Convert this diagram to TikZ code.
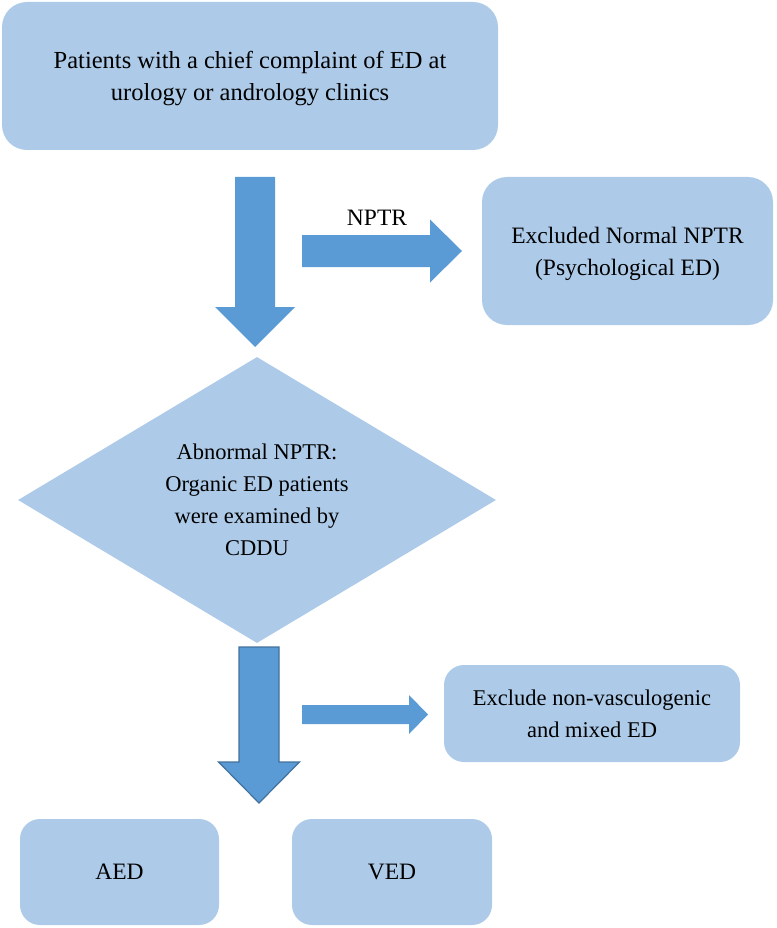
\documentclass[tikz,border=0pt]{standalone}
\usepackage{fontspec}
\setmainfont{Liberation Serif}
\usetikzlibrary{calc}
\usetikzlibrary{shapes.geometric}
\definecolor{boxblue}{RGB}{173,203,233}
\definecolor{arrowblue}{RGB}{91,155,213}
\definecolor{edgeblue}{RGB}{65,113,156}
\tikzset{stage/.style={fill=boxblue, rounded corners=25pt, inner sep=0, text depth=0pt, align=center, font=\fontsize{23.5}{32}\selectfont}}
\tikzset{check/.style={diamond, fill=boxblue, inner sep=0, aspect=1.67, text depth=0pt, align=center, font=\fontsize{22.5}{32}\selectfont}}
% block arrows: {half shaft}{half head}{head length}
\tikzset{fat down/.style n args={3}{fill=arrowblue, to path={($(\tikztostart)+(-#1,0)$) -- ($(\tikztotarget)+(-#1,-#3)$) -- ($(\tikztotarget)+(-#2,-#3)$) -- (\tikztotarget) -- ($(\tikztotarget)+(#2,-#3)$) -- ($(\tikztotarget)+(#1,-#3)$) -- ($(\tikztostart)+(#1,0)$) -- cycle}}}
\tikzset{fat right/.style n args={3}{fill=arrowblue, to path={($(\tikztostart)+(0,-#1)$) -- ($(\tikztotarget)+(-#3,-#1)$) -- ($(\tikztotarget)+(-#3,-#2)$) -- (\tikztotarget) -- ($(\tikztotarget)+(-#3,#2)$) -- ($(\tikztotarget)+(-#3,#1)$) -- ($(\tikztostart)+(0,#1)$) -- cycle}}}

\begin{document}
\begin{tikzpicture}[x=1pt, y=-1pt]
  \useasboundingbox (0,0) rectangle (776,928);

  \node[stage, minimum width=496, minimum height=148, font=\fontsize{24.5}{32}\selectfont] at (250,76) (complaint) {Patients with a chief complaint of ED at\\urology or andrology clinics};
  \node[stage, minimum width=291, minimum height=148] at (627.5,251) (psych) {Excluded Normal NPTR\\(Psychological ED)};
  \node[check, minimum width=478, minimum height=286] at (257,500) (cddu) {Abnormal NPTR:\\Organic ED patients\\were examined by\\CDDU};
  \node[stage, rounded corners=20pt, minimum width=296, minimum height=97, font=\fontsize{22.5}{32}\selectfont] at (592,713.5) (nonvasc) {Exclude non-vasculogenic\\and mixed ED};
  \node[stage, rounded corners=20pt, minimum width=199, minimum height=106] at (119.5,872) (aed) {AED};
  \node[stage, rounded corners=20pt, minimum width=200, minimum height=106] at (392,872) (ved) {VED};

  \coordinate (d1s) at (255,177);
  \coordinate (d1e) at (255,347);
  \coordinate (r1s) at (302,251);
  \coordinate (r1e) at (462,251);
  \coordinate (d2s) at (259,647);
  \coordinate (d2e) at (259,803);
  \coordinate (r2s) at (302,714.5);
  \coordinate (r2e) at (428,714.5);

  \path[fat down={20}{40}{40}] (d1s) to (d1e);
  \path[fat right={16}{31.5}{32}] (r1s) to (r1e);
  \node[font=\fontsize{23.5}{32}\selectfont] at (377,218) (nptr) {NPTR};
  \path[fat down={20}{40.5}{41}, draw=edgeblue, line width=1.2pt] (d2s) to (d2e);
  \path[fat right={9.5}{19.5}{19}] (r2s) to (r2e);
\end{tikzpicture}
\end{document}
